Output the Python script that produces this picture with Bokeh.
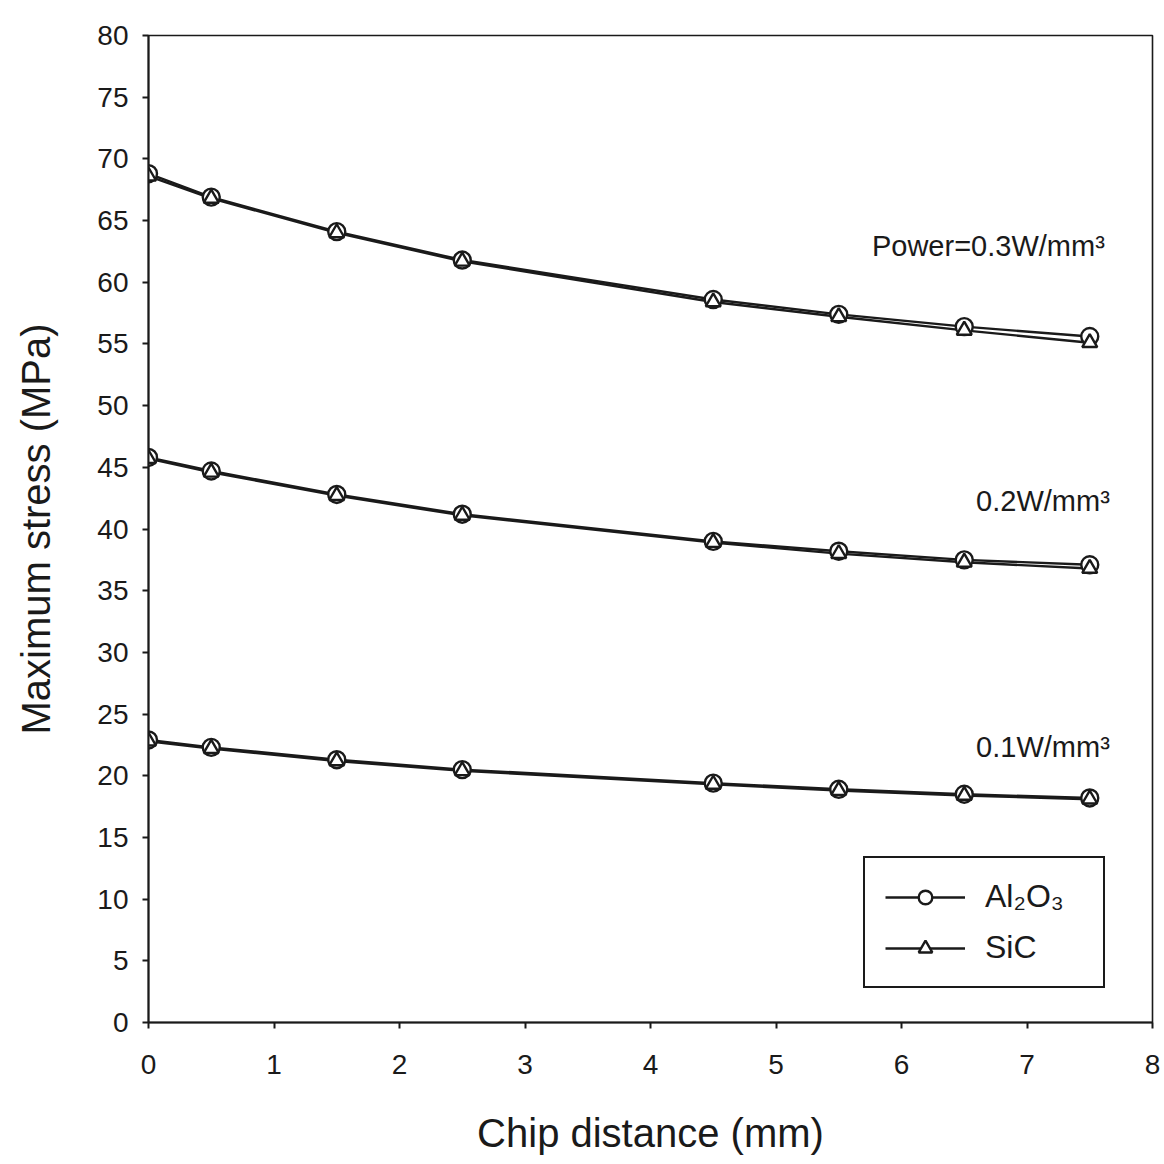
from bokeh.plotting import figure
from bokeh.models import Legend, LegendItem, Label, FixedTicker, Range1d
from bokeh.embed import file_html
from bokeh.resources import INLINE

# ---- data ----
chip_distance = [0, 0.5, 1.5, 2.5, 4.5, 5.5, 6.5, 7.5]

al2o3_p03 = [68.8, 66.9, 64.1, 61.8, 58.6, 57.4, 56.4, 55.6]
sic_p03   = [68.6, 66.8, 64.0, 61.7, 58.4, 57.2, 56.1, 55.1]
al2o3_p02 = [45.8, 44.7, 42.8, 41.2, 39.0, 38.2, 37.5, 37.1]
sic_p02   = [45.7, 44.6, 42.7, 41.1, 38.9, 38.0, 37.3, 36.8]
al2o3_p01 = [22.9, 22.3, 21.3, 20.5, 19.4, 18.9, 18.5, 18.2]
sic_p01   = [22.8, 22.2, 21.2, 20.4, 19.3, 18.8, 18.4, 18.1]

x_ticks = [0, 1, 2, 3, 4, 5, 6, 7, 8]
y_ticks = list(range(0, 85, 5))

annotations = ["Power=0.3W/mm³", "0.2W/mm³", "0.1W/mm³"]
annot_x = [7.62, 7.66, 7.66]
annot_y = [62.9, 42.3, 22.3]

FONT = "Liberation Sans"
INK = "#1a1a1a"

p = figure(width=1164, height=1164, output_backend="svg", toolbar_location=None,
           x_range=Range1d(0, 8), y_range=Range1d(0, 80),
           min_border_left=148, min_border_right=12, min_border_top=35, min_border_bottom=142)

p.xgrid.visible = False
p.ygrid.visible = False
p.background_fill_color = "white"
p.border_fill_color = "white"
p.outline_line_color = INK
p.outline_line_width = 1.6
p.outline_line_alpha = 1.0

for ax in (p.xaxis[0], p.yaxis[0]):
    ax.axis_line_color = INK
    ax.axis_line_width = 2
    ax.major_tick_line_color = INK
    ax.major_tick_line_width = 2
    ax.major_tick_out = 6
    ax.major_tick_in = 0
    ax.minor_tick_line_color = None
    ax.major_label_text_font = FONT
    ax.major_label_text_font_size = "28px"
    ax.major_label_text_color = INK
    ax.axis_label_text_font = FONT
    ax.axis_label_text_font_style = "normal"
    ax.axis_label_text_font_size = "40px"
    ax.axis_label_text_color = INK

p.xaxis.ticker = FixedTicker(ticks=x_ticks)
p.yaxis.ticker = FixedTicker(ticks=y_ticks)
p.xaxis.major_label_standoff = 26
p.yaxis.major_label_standoff = 14
p.xaxis.axis_label = "Chip distance (mm)"
p.yaxis.axis_label = "Maximum stress (MPa)"
p.xaxis.axis_label_standoff = 34
p.yaxis.axis_label_standoff = 36

al_lines, al_marks, sic_lines, sic_marks = [], [], [], []
for ys in (al2o3_p03, al2o3_p02, al2o3_p01):
    al_lines.append(p.line(chip_distance, ys, line_color=INK, line_width=2.4))
for ys in (sic_p03, sic_p02, sic_p01):
    sic_lines.append(p.line(chip_distance, ys, line_color=INK, line_width=2.4))
for ys in (al2o3_p03, al2o3_p02, al2o3_p01):
    al_marks.append(p.scatter(chip_distance, ys, marker="circle", size=17,
                              fill_color="white", line_color=INK, line_width=2.4))
for ys in (sic_p03, sic_p02, sic_p01):
    sic_marks.append(p.scatter(chip_distance, ys, marker="triangle", size=15,
                               fill_color="white", line_color=INK, line_width=2.4))

for t, xx, yy in zip(annotations, annot_x, annot_y):
    p.add_layout(Label(x=xx, y=yy, text=t, text_font=FONT, text_font_size="29px",
                       text_color=INK, text_align="right", text_baseline="middle"))

legend = Legend(items=[LegendItem(label="Al₂O₃", renderers=[al_lines[0], al_marks[0]]),
                       LegendItem(label="SiC", renderers=[sic_lines[0], sic_marks[0]])],
                location=(715, 34), orientation="vertical",
                label_text_font=FONT, label_text_font_size="32px", label_text_color=INK,
                glyph_width=80, glyph_height=34, label_standoff=20, label_width=98,
                spacing=14, padding=20, margin=0,
                border_line_color=INK, border_line_width=2.2, border_line_alpha=1.0,
                background_fill_color="white", background_fill_alpha=1.0)
p.add_layout(legend, "center")

open("out.html", "w").write(file_html(p, INLINE))
